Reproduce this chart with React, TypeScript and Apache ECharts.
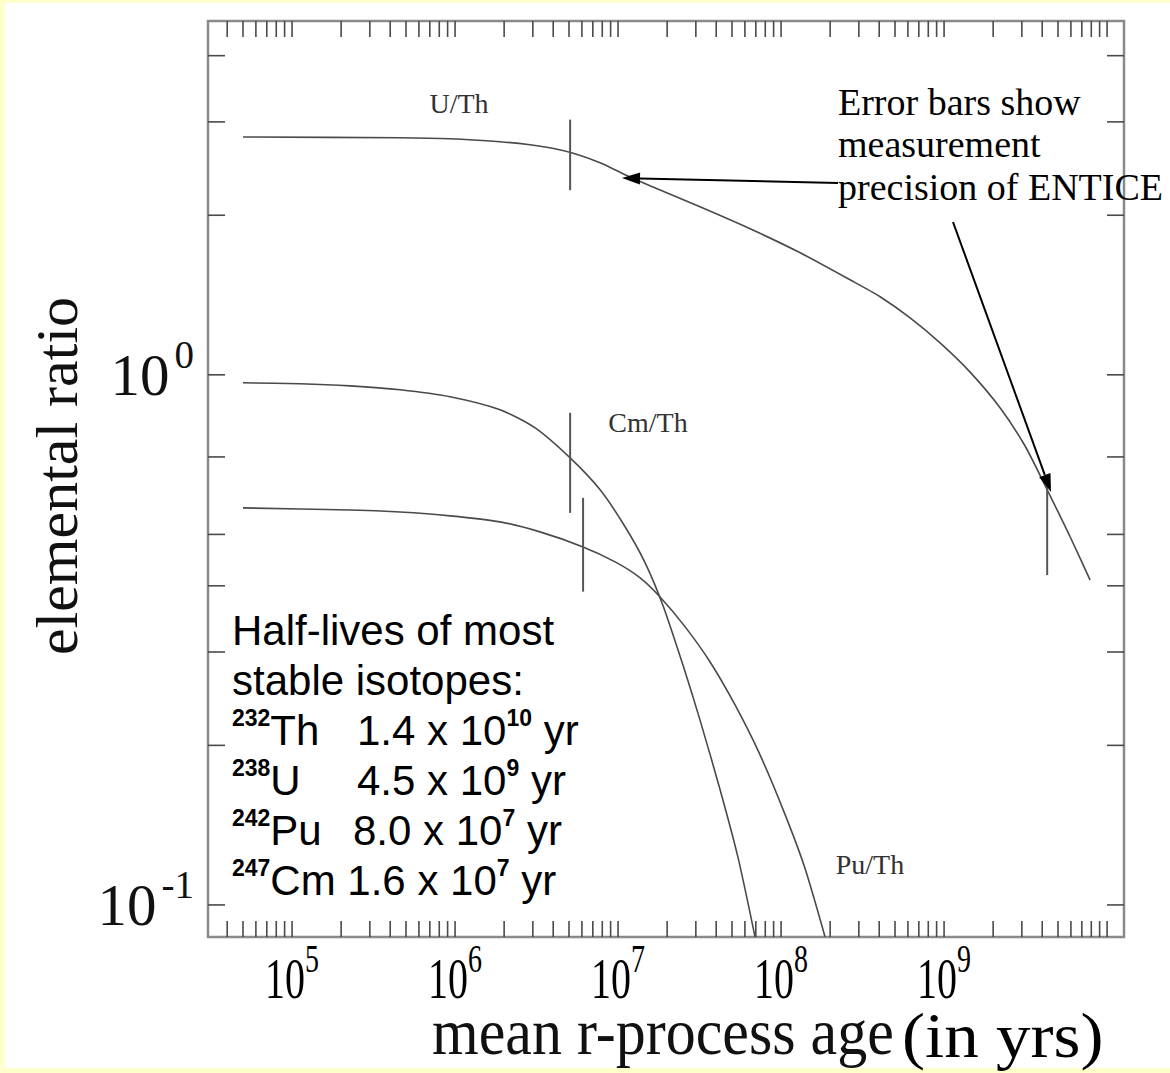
import React, { useEffect, useRef } from "react";
import * as echarts from "echarts";

// ---- data ----
const uthAge = [5.0e4, 4.6e5, 9.31e5, 1.888e6, 2.88e6, 4.1e6, 5.44e6, 7.76e6, 1.104e7, 1.57e7, 3.18e7, 6.46e7, 1.31e8, 2.65e8, 4.05e8, 6.19e8, 9.45e8, 1.44e9, 2.21e9, 3.14e9, 4.29e9, 5.93e9, 7.87e9];
const uthRatio = [2.81, 2.8, 2.788, 2.752, 2.716, 2.67, 2.612, 2.512, 2.385, 2.274, 2.075, 1.886, 1.699, 1.511, 1.404, 1.281, 1.149, 1.013, 0.866, 0.734, 0.607, 0.495, 0.41];

const cmthAge = [5.0e4, 1.12e5, 2.27e5, 4.6e5, 9.31e5, 1.888e6, 3.1e6, 5.08e6, 7.76e6, 1.104e7, 1.466e7, 1.89e7, 2.51e7, 3.18e7, 4.23e7, 5.45e7, 6.92e7];
const cmthRatio = [0.966, 0.962, 0.953, 0.937, 0.909, 0.859, 0.794, 0.697, 0.607, 0.517, 0.442, 0.3665, 0.2825, 0.2234, 0.1648, 0.1227, 0.0871];

const puthAge = [5.0e4, 2.27e5, 4.6e5, 9.31e5, 1.888e6, 3.32e6, 6.1e6, 9.6e6, 1.366e7, 1.81e7, 2.58e7, 3.67e7, 5.22e7, 7.43e7, 1.06e8, 1.4e8, 1.86e8];
const puthRatio = [0.561, 0.556, 0.551, 0.542, 0.528, 0.5055, 0.4736, 0.4437, 0.414, 0.381, 0.3346, 0.2873, 0.2384, 0.1919, 0.1479, 0.1174, 0.0871];

// error bars (ENTICE precision)
const errAge = [5.08e6, 4.29e9, 5.08e6, 6.1e6];
const errLow = [2.23, 0.419, 0.549, 0.39];
const errHigh = [3.03, 0.634, 0.848, 0.586];

// axis ticks / labels
const xLabelExponents = [5, 6, 7, 8, 9];
const yLabelExponents = [-1, 0];
const xTickDecades = [4, 5, 6, 7, 8, 9, 10];
const tickMantissas = [1, 2, 3, 4, 5, 6, 7, 8, 9];
const yTickValues = [0.1, 0.2, 0.3, 0.4, 0.5, 0.7, 1, 2, 3, 4];

const X_MIN = 3.05e4;
const X_MAX = 1.27e10;
const Y_MIN = 0.087;
const Y_MAX = 4.65;

const serif = '"Liberation Serif", "Times New Roman", Times, serif';
const sans = '"Liberation Sans", Arial, Helvetica, sans-serif';

const xTicks = xTickDecades
  .flatMap((d) => tickMantissas.map((m) => m * Math.pow(10, d)))
  .filter((v) => v > X_MIN && v < X_MAX);

function yExpLabel(v: number) {
  const l = Math.log10(v);
  const e = Math.round(l);
  if (Math.abs(l - e) > 1e-6 || yLabelExponents.indexOf(e) < 0) return "";
  return `{b|10}{e|${e}}`;
}

const yRich = {
  b: { fontFamily: serif, fontSize: 59, color: "#111", padding: [10, 0, 10, 0], lineHeight: 79, verticalAlign: "top" },
  e: { fontFamily: serif, fontSize: 39, color: "#111", padding: [0, 0, 0, 5], verticalAlign: "top" },
};

const xRich = {
  b: { fontFamily: serif, fontSize: 40, color: "#111", padding: [8, 0, 0, 0], lineHeight: 48, verticalAlign: "top" },
  e: { fontFamily: serif, fontSize: 28, color: "#111", verticalAlign: "top" },
};

function arrow(x1: number, y1: number, x2: number, y2: number) {
  const dx = x2 - x1, dy = y2 - y1;
  const len = Math.hypot(dx, dy);
  const ux = dx / len, uy = dy / len;
  const hl = 18, hw = 6;
  const bx = x2 - ux * hl, by = y2 - uy * hl;
  return [
    { type: "line", z: 20, shape: { x1, y1, x2: bx, y2: by }, style: { stroke: "#000", lineWidth: 2 } },
    {
      type: "polygon", z: 20,
      shape: { points: [[x2, y2], [bx - uy * hw, by + ux * hw], [bx + uy * hw, by - ux * hw]] },
      style: { fill: "#000" },
    },
  ];
}

function txt(text: string, x: number, y: number, font: string, size: number, color = "#000", extra: any = {}, el: any = {}) {
  return {
    type: "text", z: 20, x, y, ...el,
    style: {
      text, fill: color, fontFamily: font, fontSize: size,
      align: "left", verticalAlign: "middle", textAlign: "left", textVerticalAlign: "middle",
      ...extra,
    },
  };
}

const halfRich = {
  t: { fontFamily: sans, fontSize: 42, lineHeight: 48, color: "#000" },
  s: { fontFamily: sans, fontSize: 23, fontWeight: "bold", color: "#000", verticalAlign: "top" },
};

export default function App() {
  const ref = useRef<HTMLDivElement>(null);
  useEffect(() => {
    if (!ref.current) return;
    const chart = echarts.init(ref.current, undefined, { renderer: "svg" });
    const lineStyle = { color: "#4a4a4a", width: 1.6 };
    const mkLine = (name: string, xs: number[], ys: number[]) => ({
      type: "line", name, data: xs.map((x, i) => [x, ys[i]]), showSymbol: false, symbol: "none",
      smooth: 0.25, lineStyle, silent: true, z: 3,
    });
    const half = (B: number) => B - 14.5;
    const tickStyle = { stroke: "#4a4a4a", lineWidth: 1.6 };
    const option: any = {
      animation: false,
      backgroundColor: "#FFFFCC",
      textStyle: { fontFamily: serif },
      grid: { left: 208, top: 21, width: 916, height: 916, show: true, borderColor: "#8a8a8a", borderWidth: 2.5, backgroundColor: "transparent", containLabel: false, outerBoundsMode: "none" },
      xAxis: {
        type: "log", logBase: 10, min: X_MIN, max: X_MAX,
        axisLine: { show: false }, axisTick: { show: false }, splitLine: { show: false },
        axisLabel: { show: false },
      },
      yAxis: {
        type: "log", logBase: 10, min: Y_MIN, max: Y_MAX,
        axisLine: { show: false }, axisTick: { show: false }, splitLine: { show: false },
        axisLabel: { margin: 14, showMinLabel: false, showMaxLabel: false, formatter: yExpLabel, rich: yRich },
      },
      series: [
        mkLine("U/Th", uthAge, uthRatio),
        mkLine("Cm/Th", cmthAge, cmthRatio),
        mkLine("Pu/Th", puthAge, puthRatio),
        {
          type: "custom", name: "errors", silent: true, z: 4,
          data: errAge.map((x, i) => [x, errLow[i], errHigh[i]]),
          encode: { x: 0, y: [1, 2] },
          renderItem: (params: any, api: any) => {
            const p1 = api.coord([api.value(0), api.value(1)]);
            const p2 = api.coord([api.value(0), api.value(2)]);
            return { type: "line", shape: { x1: p1[0], y1: p1[1], x2: p2[0], y2: p2[1] }, style: { stroke: "#555", lineWidth: 2 } };
          },
        },
        {
          type: "custom", name: "xticks", silent: true, clip: false, z: 5,
          data: xTicks.map((v) => [v, 1]),
          encode: { x: 0, y: 1 },
          renderItem: (params: any, api: any) => {
            const cs = params.coordSys;
            const px = api.coord([api.value(0), 1])[0];
            const top = cs.y, bot = cs.y + cs.height;
            return {
              type: "group", children: [
                { type: "line", shape: { x1: px, y1: bot, x2: px, y2: bot - 16 }, style: tickStyle },
                { type: "line", shape: { x1: px, y1: top, x2: px, y2: top + 16 }, style: tickStyle },
              ],
            };
          },
        },
        {
          type: "custom", name: "yticks", silent: true, clip: false, z: 5,
          data: yTickValues.map((v) => [1e6, v]),
          encode: { x: 0, y: 1 },
          renderItem: (params: any, api: any) => {
            const cs = params.coordSys;
            const py = api.coord([1e6, api.value(1)])[1];
            const left = cs.x, right = cs.x + cs.width;
            return {
              type: "group", children: [
                { type: "line", shape: { x1: left, y1: py, x2: left + 17, y2: py }, style: tickStyle },
                { type: "line", shape: { x1: right, y1: py, x2: right - 17, y2: py }, style: tickStyle },
              ],
            };
          },
        },
        {
          // x tick labels (10^n), placed on the log axis, tall serif as in the reference
          type: "custom", name: "xlabels", silent: true, clip: false, z: 6,
          data: xLabelExponents.map((e) => [Math.pow(10, e), 1, e]),
          encode: { x: 0, y: 1 },
          renderItem: (params: any, api: any) => {
            const cs = params.coordSys;
            const px = api.coord([api.value(0), 1])[0];
            return {
              type: "text", x: px, y: cs.y + cs.height + 1, scaleY: 1.45,
              style: { text: `{b|10}{e|${api.value(2)}}`, rich: xRich, align: "center", verticalAlign: "top", textAlign: "center", textVerticalAlign: "top" },
            };
          },
        },
      ],
      graphic: {
        elements: [
          { type: "rect", z: -10, silent: true, shape: { x: 5, y: 3, width: 1165, height: 1065 }, style: { fill: "#ffffff" } },
          // curve labels
          txt("U/Th", 459, 103, serif, 28, "#333", { align: "center", textAlign: "center" }),
          txt("Cm/Th", 648, 422, serif, 28, "#333", { align: "center", textAlign: "center" }),
          txt("Pu/Th", 870, 864, serif, 28, "#333", { align: "center", textAlign: "center" }),
          // annotation
          txt("Error bars show", 838, 115 - 13, serif, 38),
          txt("measurement", 838, 157 - 13, serif, 38),
          txt("precision of ENTICE", 838, 200 - 13, serif, 38),
          ...arrow(838, 183, 622, 178),
          ...arrow(953, 222, 1051, 492),
          // half-lives box
          txt("Half-lives of most", 232, half(645), sans, 42),
          txt("stable isotopes:", 232, half(695), sans, 42),
          txt("{s|232}{t|Th}", 232, half(745), sans, 42, "#000", { rich: halfRich }),
          txt("{t|1.4 x 10}{s|10}{t| yr}", 357, half(745), sans, 42, "#000", { rich: halfRich }),
          txt("{s|238}{t|U}", 232, half(795), sans, 42, "#000", { rich: halfRich }),
          txt("{t|4.5 x 10}{s|9}{t| yr}", 357, half(795), sans, 42, "#000", { rich: halfRich }),
          txt("{s|242}{t|Pu}", 232, half(845), sans, 42, "#000", { rich: halfRich }),
          txt("{t|8.0 x 10}{s|7}{t| yr}", 353, half(845), sans, 42, "#000", { rich: halfRich }),
          txt("{s|247}{t|Cm 1.6 x 10}{s|7}{t| yr}", 232, half(895), sans, 42, "#000", { rich: halfRich }),
          // axis titles
          txt("mean r-process age", 432, 1032, serif, 60, "#111", {}, { scaleY: 1.1 }),
          txt("(in yrs)", 902, 1035, serif, 64, "#000", {}, { scaleX: 1.08 }),
          {
            type: "text", z: 20, x: 57, y: 476, rotation: Math.PI / 2,
            style: { text: "elemental ratio", fill: "#111", fontFamily: serif, fontSize: 60, align: "center", verticalAlign: "middle", textAlign: "center", textVerticalAlign: "middle" },
          },
        ],
      },
    };
    chart.setOption(option);
    return () => chart.dispose();
  }, []);
  return <div ref={ref} style={{ position: "absolute", left: 0, top: 0, width: 1170, height: 1073 }} />;
}
